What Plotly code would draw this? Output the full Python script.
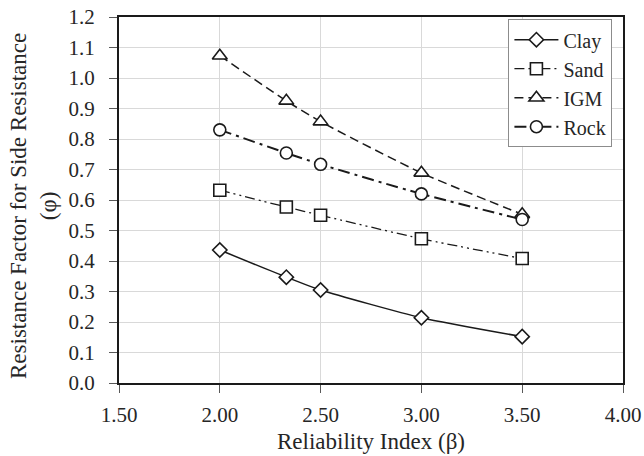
import plotly.graph_objects as go

beta = [2.00, 2.33, 2.50, 3.00, 3.50]
clay = [0.436, 0.347, 0.305, 0.214, 0.152]
sand = [0.632, 0.577, 0.550, 0.473, 0.408]
igm = [1.073, 0.925, 0.857, 0.689, 0.553]
rock = [0.830, 0.754, 0.717, 0.620, 0.536]

x_ticks = [1.5, 2.0, 2.5, 3.0, 3.5, 4.0]
x_ticktext = ["1.50", "2.00", "2.50", "3.00", "3.50", "4.00"]
y_ticks = [0.0, 0.1, 0.2, 0.3, 0.4, 0.5, 0.6, 0.7, 0.8, 0.9, 1.0, 1.1, 1.2]
y_ticktext = ["0.0", "0.1", "0.2", "0.3", "0.4", "0.5", "0.6", "0.7", "0.8", "0.9", "1.0", "1.1", "1.2"]

series = [
    ("Clay", clay, "diamond", "solid", 1.5, 11),
    ("Sand", sand, "square", "10px,4px,2px,4px,2px,4px", 1.3, 12),
    ("IGM", igm, "triangle-up", "9px,5px", 1.5, 13),
    ("Rock", rock, "circle", "12px,5px,3px,5px", 2.0, 12),
]

ink = "#1a1a1a"
txt = "#262626"
font = "Liberation Serif, Times New Roman, serif"

fig = go.Figure()
for name, vals, sym, dash, w, sz in series:
    fig.add_trace(go.Scatter(
        x=beta, y=vals, name=name, mode="lines+markers",
        line=dict(color=ink, width=w, dash=dash, shape="spline", smoothing=0.6),
        marker=dict(symbol=sym, size=sz, color="white", line=dict(color=ink, width=1.6)),
    ))

fig.update_layout(
    width=644, height=456,
    margin=dict(l=119, r=21, t=17, b=73, autoexpand=False),
    paper_bgcolor="white", plot_bgcolor="white",
    font=dict(family=font, size=21, color=txt),
    showlegend=True,
    legend=dict(x=0.979, y=0.994, xanchor="right", yanchor="top",
                bgcolor="white", bordercolor="#8c8c8c", borderwidth=1,
                font=dict(family=font, size=20, color=txt),
                tracegroupgap=0, itemwidth=44),
    xaxis=dict(range=[1.5, 4.0], tickvals=x_ticks, ticktext=x_ticktext,
               showgrid=True, gridcolor="#d9d9d9", gridwidth=1,
               showline=True, linecolor=ink, linewidth=2, mirror=True,
               ticks="outside", ticklen=8, tickcolor="#595959",
               ticklabelstandoff=4, automargin=False, zeroline=False),
    yaxis=dict(range=[0, 1.2], tickvals=y_ticks, ticktext=y_ticktext,
               showgrid=True, gridcolor="#d9d9d9", gridwidth=1,
               showline=True, linecolor=ink, linewidth=2, mirror=True,
               ticks="outside", ticklen=8, tickcolor="#595959",
               ticklabelstandoff=10, automargin=False, zeroline=False),
    annotations=[
        dict(text="Reliability Index (β)", xref="paper", yref="paper",
             x=0.5, y=0, yshift=-58, xanchor="center", yanchor="middle",
             showarrow=False, font=dict(family=font, size=23, color=txt)),
        dict(text="Resistance Factor for Side Resistance<br>(φ)", xref="paper", yref="paper",
             x=0, y=0.5, xshift=-86, yshift=-6, xanchor="center", yanchor="middle",
             textangle=-90, showarrow=False,
             font=dict(family=font, size=23, color=txt)),
    ],
)

fig.write_html(
    "out.html",
    config={"displayModeBar": False},
    post_script="document.body.style.margin='0';document.body.style.overflow='hidden';",
)
